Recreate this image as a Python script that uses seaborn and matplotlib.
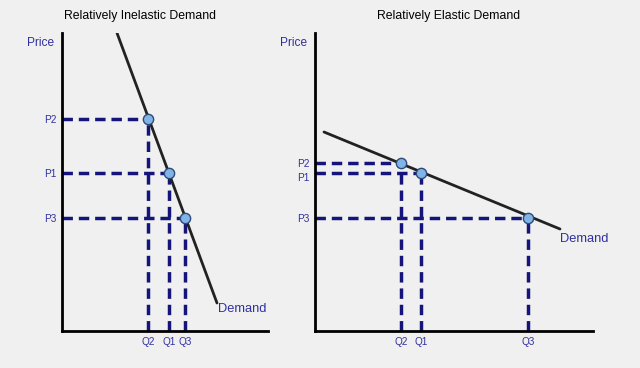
import numpy as np
import pandas as pd
from matplotlib import pyplot as plt
from matplotlib.transforms import ScaledTranslation
import seaborn as sns

# inelastic demand (left panel)
inel_demand_q = [5.5, 15.5]
inel_demand_p = [29.8, 2.8]
inel_q = [8.6, 10.7, 12.3]
inel_p = [21.2, 15.8, 11.3]
inel_q_labels = ["Q2", "Q1", "Q3"]
inel_p_labels = ["P2", "P1", "P3"]

# elastic demand (right panel)
el_demand_q = [0.9, 24.5]
el_demand_p = [19.9, 10.2]
el_q = [8.6, 10.6, 21.3]
el_p = [16.8, 15.8, 11.3]
el_q_labels = ["Q2", "Q1", "Q3"]
el_p_labels = ["P2", "P1", "P3"]

titles = ["Relatively Inelastic Demand", "Relatively Elastic Demand"]

sns.set_theme(style="white")
plt.rcParams["font.family"] = ["Liberation Sans", "DejaVu Sans"]

BG = "#f0f0f0"
NAVY = "#14147a"
TXT = "#3030a0"

fig = plt.figure(figsize=(6.4, 3.68), dpi=100, facecolor=BG)


def panel(rect, xmax, ymax, dq, dp, q, p, qlab, plab, price_x, dem_off):
    ax = fig.add_axes(rect)
    ax.set_facecolor(BG)
    sns.lineplot(x=dq, y=dp, ax=ax, color="#222222", lw=2, zorder=3)
    for qi, pi in zip(q, p):
        ax.plot([qi, qi], [0, pi], color=NAVY, lw=2.5, ls=(0, (3, 1.7)), zorder=2)
        ax.plot([0, qi], [pi, pi], color=NAVY, lw=2.5, ls=(0, (3, 1.7)), zorder=2)
    pts = pd.DataFrame({"q": q, "p": p})
    sns.scatterplot(data=pts, x="q", y="p", ax=ax, s=55, color="#80b4e6",
                    edgecolor="#2e4a78", linewidth=1, zorder=4)
    ax.set_xlim(0, xmax)
    ax.set_ylim(0, ymax)
    ax.set_xticks(q, qlab)
    ax.set_yticks(p, plab)
    ax.tick_params(length=0, labelsize=7.2, labelcolor=TXT, pad=4)
    ax.set_xlabel("")
    ax.set_ylabel("")
    for s in ["top", "right"]:
        ax.spines[s].set_visible(False)
    for s in ["left", "bottom"]:
        ax.spines[s].set_color("black")
        ax.spines[s].set_linewidth(2)
    ax.text(price_x, 0.966, "Price", transform=ax.transAxes, ha="right",
            va="center", color=TXT, fontsize=8.6)
    ax.annotate("Demand", (dq[-1], dp[-1]), xytext=dem_off,
                textcoords="offset points", ha="left", va="center",
                color=TXT, fontsize=9.3)
    return ax


ax1 = panel([62 / 640, 37 / 368, 206 / 640, 298 / 368], 20.6, 29.8,
            inel_demand_q, inel_demand_p, inel_q, inel_p,
            inel_q_labels, inel_p_labels, -0.039, (1, -4.5))
ax2 = panel([315 / 640, 37 / 368, 278 / 640, 298 / 368], 27.8, 29.8,
            el_demand_q, el_demand_p, el_q, el_p,
            el_q_labels, el_p_labels, -0.029, (0, -7.5))

# the P1 label on the elastic panel sits a bit below its line
lab = ax2.get_yticklabels()[1]
lab.set_transform(lab.get_transform() + ScaledTranslation(0, -4 / 100, fig.dpi_scale_trans))

fig.text(140 / 640, 1 - 16 / 368, titles[0], ha="center", va="center",
         fontsize=8.8, color="black")
fig.text(449 / 640, 1 - 16 / 368, titles[1], ha="center", va="center",
         fontsize=8.8, color="black")

fig.savefig("out.png", dpi=100, facecolor=BG)
